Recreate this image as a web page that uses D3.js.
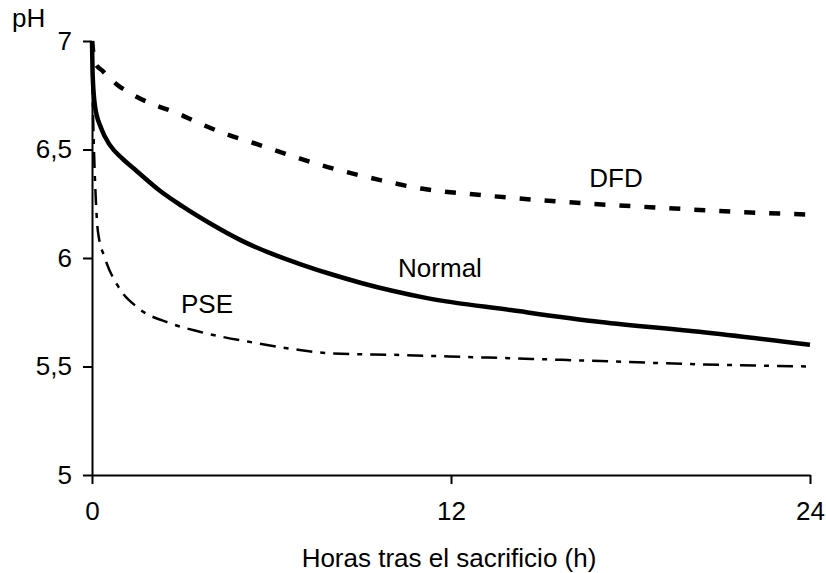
<!DOCTYPE html>
<html>
<head>
<meta charset="utf-8">
<script src="https://cdn.jsdelivr.net/npm/d3@7"></script>
<style>
  html, body { margin: 0; padding: 0; background: #fff; }
  svg { display: block; }
  text { font-family: "Liberation Sans", Arial, sans-serif; fill: #000; }
</style>
</head>
<body>
<svg id="chart" width="826" height="573"></svg>
<script>
// pH decline after slaughter (hours) for three meat quality classes
const hoursNormal = [0, 0.02, 0.1, 0.3, 0.6, 1, 1.5, 2.27, 3, 3.94, 5, 6, 7, 8, 9, 10, 11.2, 14, 17, 20.3, 24];
const phNormal    = [7.0, 6.85, 6.70, 6.60, 6.52, 6.46, 6.40, 6.31, 6.24, 6.16, 6.08, 6.02, 5.97, 5.925, 5.885, 5.85, 5.815, 5.76, 5.705, 5.66, 5.60];

const hoursDFD = [0, 0.1, 0.37, 0.83, 1.4, 2.0, 2.8, 3.6, 4.5, 5.4, 6.7, 7.6, 8.4, 9.6, 11, 13, 15.6, 19.2, 22, 24];
const phDFD    = [7.0, 6.9, 6.86, 6.80, 6.75, 6.71, 6.67, 6.62, 6.57, 6.53, 6.47, 6.43, 6.40, 6.36, 6.32, 6.29, 6.26, 6.23, 6.21, 6.20];

const hoursPSE = [0, 0.03, 0.07, 0.1, 0.2, 0.43, 0.87, 1.54, 2.6, 3.6, 5.4, 7, 8, 10.3, 12.5, 14.7, 17, 20.3, 24];
const phPSE    = [7.0, 6.7, 6.48, 6.36, 6.12, 6.00, 5.87, 5.77, 5.70, 5.66, 5.61, 5.575, 5.56, 5.553, 5.544, 5.535, 5.525, 5.51, 5.50];

const yTicks = [5, 5.5, 6, 6.5, 7];
const yTickLabels = ["5", "5,5", "6", "6,5", "7"];
const xTicks = [0, 12, 24];
const xTickLabels = ["0", "12", "24"];

const seriesNames = ["Normal", "DFD", "PSE"];
const xTitle = "Horas tras el sacrificio (h)";
const yTitle = "pH";

const svg = d3.select("#chart");
const FONT = 26;

const x = d3.scaleLinear().domain([0, 24]).range([92, 810]);
const y = d3.scaleLinear().domain([5, 7]).range([475, 41]);

// Axes
const yAxis = d3.axisLeft(y)
  .tickValues(yTicks)
  .tickFormat((d, i) => yTickLabels[i])
  .tickSize(9).tickSizeOuter(0).tickPadding(11);

const xAxis = d3.axisBottom(x)
  .tickValues(xTicks)
  .tickFormat((d, i) => xTickLabels[i])
  .tickSize(9).tickSizeOuter(0).tickPadding(18);

const gy = svg.append("g").attr("transform", "translate(92,0)").call(yAxis);
const gx = svg.append("g").attr("transform", "translate(0,475)").call(xAxis);

[gx, gy].forEach(g => {
  g.select(".domain").attr("stroke", "#000").attr("stroke-width", 2);
  g.selectAll(".tick line").attr("stroke", "#000").attr("stroke-width", 2);
  g.selectAll(".tick text")
    .style("font-family", '"Liberation Sans", Arial, sans-serif')
    .style("font-size", FONT + "px")
    .attr("fill", "#000");
});

// Curves
const line = d3.line()
  .x(d => x(d[0]))
  .y(d => y(d[1]))
  .curve(d3.curveMonotoneX);

const zip = (a, b) => a.map((v, i) => [v, b[i]]);

svg.append("path")
  .datum(zip(hoursPSE, phPSE))
  .attr("d", line)
  .attr("fill", "none")
  .attr("stroke", "#000")
  .attr("stroke-width", 2.5)
  .attr("stroke-dasharray", "16,8,5,8");

svg.append("path")
  .datum(zip(hoursDFD, phDFD))
  .attr("d", line)
  .attr("fill", "none")
  .attr("stroke", "#000")
  .attr("stroke-width", 4.5)
  .attr("stroke-dasharray", "11,14");

svg.append("path")
  .datum(zip(hoursNormal, phNormal))
  .attr("d", line)
  .attr("fill", "none")
  .attr("stroke", "#000")
  .attr("stroke-width", 4.5);

// Series labels
const labelPos = [
  { x: 440, y: 277 },
  { x: 616, y: 187 },
  { x: 207, y: 313 }
];
svg.selectAll("text.series")
  .data(seriesNames)
  .join("text")
  .attr("class", "series")
  .attr("x", (d, i) => labelPos[i].x)
  .attr("y", (d, i) => labelPos[i].y)
  .attr("text-anchor", "middle")
  .style("font-size", FONT + "px")
  .text(d => d);

// Axis titles
svg.append("text")
  .attr("x", 449).attr("y", 567)
  .attr("text-anchor", "middle")
  .style("font-size", FONT + "px")
  .text(xTitle);

svg.append("text")
  .attr("x", 12).attr("y", 27)
  .style("font-size", FONT + "px")
  .text(yTitle);
</script>
</body>
</html>
